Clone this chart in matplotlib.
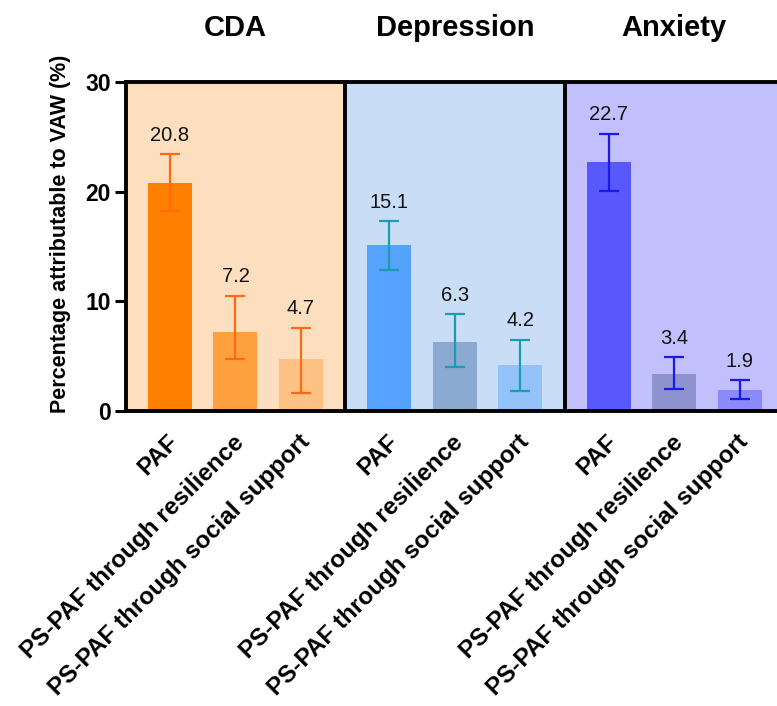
import matplotlib
matplotlib.use("Agg")
import matplotlib.pyplot as plt
import matplotlib.transforms as mtransforms
import numpy as np

plt.rcParams['font.family'] = ['Liberation Sans', 'DejaVu Sans']

groups = ["CDA", "Depression", "Anxiety"]
labels = ["PAF", "PS-PAF through resilience", "PS-PAF through social support"]
values = [[20.8, 7.2, 4.7], [15.1, 6.3, 4.2], [22.7, 3.4, 1.9]]
ci_low = [[18.2, 4.7, 1.6], [12.9, 4.0, 1.8], [20.1, 2.0, 1.1]]
ci_high = [[23.4, 10.5, 7.6], [17.3, 8.8, 6.5], [25.3, 4.9, 2.8]]

bg_colors = ["#FDDFC0", "#C9DDF6", "#C1BFFC"]
bar_colors = [["#FF7F00", "#FFA040", "#FFC285"],
              ["#55A2FF", "#8AAAD2", "#92C2F8"],
              ["#5858FC", "#8E93D0", "#8A8AFC"]]
err_colors = ["#FF6A10", "#1A9DB0", "#1A1AE6"]

W, H = 777, 706
fig = plt.figure(figsize=(W / 100, H / 100), dpi=100)
gap = 1.35
half = 0.672
x0 = 126 / W
ax = fig.add_axes([x0, 295 / H, (783.7 - 126) / W, (624 - 295) / H])

xticks = []
xlabels = []
for g in range(3):
    base = g * (2 + gap)
    xs = base + np.arange(3)
    left = base - half
    right = base + 2 + half
    ax.axvspan(left, right, facecolor=bg_colors[g], edgecolor='none', zorder=0)
    vals = np.array(values[g])
    lo = vals - np.array(ci_low[g])
    hi = np.array(ci_high[g]) - vals
    ax.bar(xs, vals, width=0.672, color=bar_colors[g], zorder=2)
    ax.errorbar(xs, vals, yerr=[lo, hi], fmt='none', ecolor=err_colors[g],
                elinewidth=1.6, capsize=7.5, capthick=1.6, zorder=3)
    for x, v, h in zip(xs, vals, ci_high[g]):
        ax.annotate(f"{v:.1f}", (x, h), xytext=(0, 7), textcoords='offset points',
                    ha='center', va='bottom', fontsize=14.5, color='#111111')
    ax.text(base + 1, 34.9, groups[g], ha='center', va='center',
            fontsize=21, fontweight='bold')
    if g > 0:
        ax.axvline(left - (gap - 2 * half) / 2, color='black', lw=2.8, zorder=4)
    xticks.extend(xs)
    xlabels.extend(labels)

ax.set_xlim(-half, 2 * (2 + gap) + 2 + half)
ax.set_ylim(0, 30)
ax.set_yticks([0, 10, 20, 30])
ax.set_yticklabels(["0", "10", "20", "30"], fontsize=16.5, fontweight='bold')
ax.tick_params(axis='y', length=8, width=2.2, pad=3)
ax.set_xticks(xticks)
ax.set_xticklabels(xlabels, rotation=45, ha='right', va='center',
                   rotation_mode='anchor', fontsize=17.5, fontweight='bold')
ax.tick_params(axis='x', length=0, pad=20)
offset = mtransforms.ScaledTranslation(0.05, 0, fig.dpi_scale_trans)
for lbl in ax.get_xticklabels():
    lbl.set_transform(lbl.get_transform() + offset)
for s in ax.spines.values():
    s.set_linewidth(2.8)
    s.set_color('black')
    s.set_zorder(5)
ax.set_ylabel("Percentage attributable to VAW (%)", fontsize=15.5,
              fontweight='bold')
ax.yaxis.set_label_coords(-0.084, 0.54)

fig.savefig("out.png", dpi=100)
